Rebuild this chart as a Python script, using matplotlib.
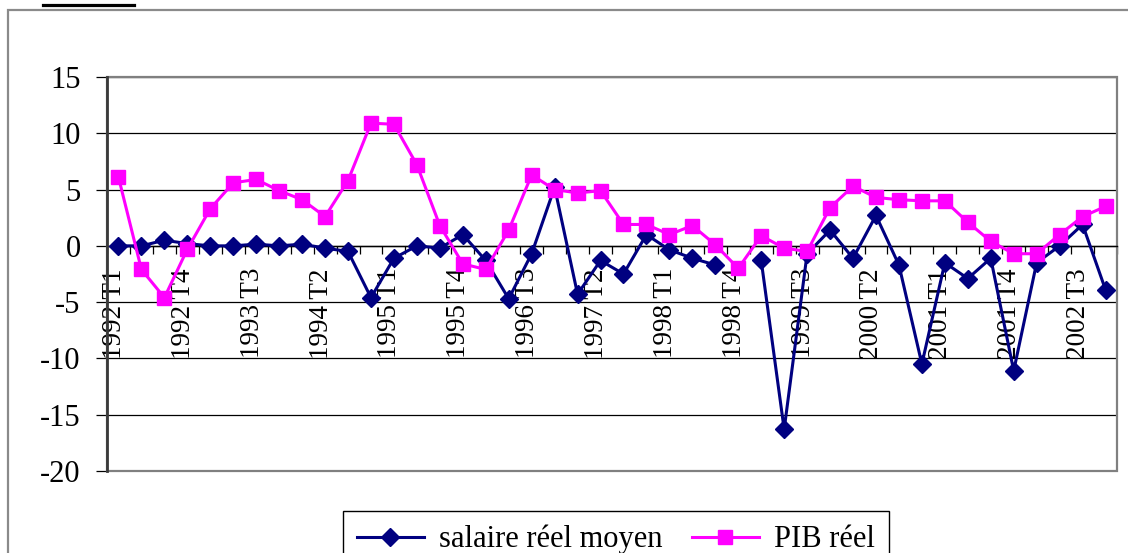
import numpy as np
import matplotlib.pyplot as plt
from matplotlib.patches import Rectangle
from matplotlib.lines import Line2D
from matplotlib.transforms import ScaledTranslation

# quarterly series, 1992 T1 .. 2002 T4
quarters = [f"{y} T{q}" for y in range(1992, 2003) for q in range(1, 5)]

salaire = [0.0, 0.0, 0.5, 0.2, 0.0, 0.0, 0.15, 0.0, 0.15, -0.2, -0.5,
           -4.6, -1.1, 0.0, -0.2, 1.0, -1.3, -4.7, -0.7, 5.2, -4.3, -1.3,
           -2.5, 1.0, -0.35, -1.1, -1.7, np.nan, -1.3, -16.3, -0.7, 1.4,
           -1.1, 2.7, -1.7, -10.5, -1.5, -2.9, -1.1, -11.1, -1.5, 0.0,
           1.9, -3.9]
pib = [6.1, -2.1, -4.6, -0.3, 3.3, 5.6, 5.9, 4.9, 4.1, 2.6, 5.8,
       10.9, 10.8, 7.2, 1.8, -1.6, -2.1, 1.4, 6.3, 5.0, 4.7, 4.9,
       1.9, 1.9, 1.0, 1.8, 0.1, -2.0, 0.9, -0.2, -0.5, 3.4,
       5.3, 4.3, 4.1, 4.0, 4.0, 2.1, 0.4, -0.7, -0.7, 1.0,
       2.6, 3.5]

yticks = [-20, -15, -10, -5, 0, 5, 10, 15]
series_names = ["salaire réel moyen", "PIB réel"]

FONT = "Liberation Serif"
plt.rcParams["font.family"] = FONT

W, H = 1128, 553
fig = plt.figure(figsize=(W / 100, H / 100), dpi=100)

# chart area frame (runs off the right and bottom of the picture)
fig.add_artist(Rectangle((8 / W, -0.1), 1.2, 0.1 + 543 / H, transform=fig.transFigure,
                         fill=False, ec="#8a8a8a", lw=1.6, clip_on=False, zorder=0))
# cropped underline of a heading above the chart
fig.add_artist(Line2D([43 / W, 134 / W], [1 - 4.5 / H] * 2, transform=fig.transFigure,
                      color="black", lw=2.3))

ax = fig.add_axes([107 / W, (H - 471) / H, 1010 / W, 394 / H])
x = np.arange(len(quarters))

ax.plot(x, salaire, color="#000080", lw=2.2, marker="D", ms=9, zorder=3)
ax.plot(x, pib, color="#FF00FF", lw=2.2, marker="s", ms=10.5, zorder=4)

ax.set_xlim(-0.5, len(quarters) - 0.5)
ax.set_ylim(-20, 15)

ax.set_yticks(yticks)
ax.set_yticklabels([str(v) for v in yticks], family=FONT, fontsize=22)
ax.yaxis.grid(True, color="black", lw=0.9)
ax.set_axisbelow(True)
ax.tick_params(axis="y", direction="out", length=8, width=0.9, pad=11)

# category axis crosses at 0
ax.spines["bottom"].set_position(("data", 0))
ax.spines["bottom"].set_color("black")
ax.spines["bottom"].set_linewidth(1.0)
ax.spines["bottom"].set_zorder(2)
for s in ("top", "right"):
    ax.spines[s].set_visible(False)
ax.spines["left"].set_color("#3a3a3a")
ax.spines["left"].set_linewidth(2.0)
ax.add_patch(Rectangle((0, 0), 1, 1, transform=ax.transAxes, fill=False,
                       ec="#808080", lw=1.6, clip_on=False, zorder=1))

ax.set_xticks(x[::3])
ax.set_xticklabels(quarters[::3], rotation=90, family=FONT, fontsize=19.5)
ax.set_xticks(np.arange(-0.5, len(quarters), 1), minor=True)
ax.tick_params(axis="x", which="major", length=0, pad=16)
ax.tick_params(axis="x", which="minor", direction="out", length=6, width=0.9)
shift = ScaledTranslation(-4 / 100, 0, fig.dpi_scale_trans)
for lab in ax.get_xticklabels():
    lab.set_transform(lab.get_transform() + shift)

leg = fig.legend(series_names, loc="upper left", bbox_to_anchor=(343 / W, 1 - 511 / H),
                 ncol=2, prop={"family": FONT, "size": 22}, frameon=True, fancybox=False,
                 framealpha=1, edgecolor="black", handlelength=2.2, handletextpad=0.5,
                 columnspacing=0.95, borderpad=0.45, borderaxespad=0)
leg.get_frame().set_linewidth(1.0)

fig.savefig("out.png", dpi=100)
